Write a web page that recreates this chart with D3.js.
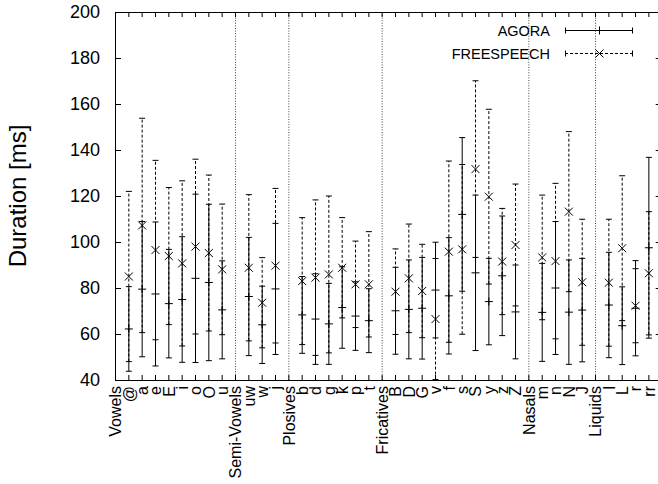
<!DOCTYPE html>
<html>
<head>
<meta charset="utf-8">
<script src="https://cdn.jsdelivr.net/npm/d3@7"></script>
<style>
  html, body { margin: 0; padding: 0; background: #fff; }
  svg { display: block; }
</style>
</head>
<body>
<script>
// Phoneme classes (headings) and phonemes along the x axis
const categories = ["Vowels","@","a","e","E","i","o","O","u",
  "Semi-Vowels","uw","w","j",
  "Plosives","b","d","g","k","p","t",
  "Fricatives","B","D","G","v","f","s","S","y","z","Z",
  "Nasals","m","n","N","J",
  "Liquids","l","L","r","rr"];

// Mean duration (ms) and standard deviation per phoneme; null for class headings
const agoraMean = [null,62.2,79.5,77.4,73.2,75.0,84.2,82.4,70.5,
  null,76.3,64.0,79.6,
  null,68.3,66.5,64.4,71.5,67.8,65.8,
  null,70.1,70.7,71.2,79.1,76.6,112.0,86.6,74.1,85.3,69.6,
  null,69.4,80.0,69.5,70.4,
  null,72.6,63.6,71.2,97.5];
const agoraSd = [null,18.4,29.4,31.3,23.6,27.3,36.6,34.0,21.3,
  null,25.7,16.8,28.5,
  null,16.7,19.7,17.6,17.7,14.9,13.9,
  null,18.9,21.5,22.1,20.8,25.3,33.4,33.8,18.8,26.0,20.4,
  null,21.3,28.9,22.7,22.5,
  null,22.9,16.9,20.7,39.3];
const freeMean = [null,85.0,107.2,96.5,93.9,90.7,98.0,95.2,88.1,
  null,88.8,73.6,89.7,
  null,83.0,84.5,85.9,88.8,81.6,81.6,
  null,78.4,84.2,78.7,66.5,95.8,96.8,131.7,119.7,91.5,98.7,
  null,93.3,91.7,113.2,82.5,
  null,82.3,97.3,72.3,86.4];
const freeSd = [null,37.0,46.6,39.0,29.8,35.9,38.0,33.9,28.4,
  null,31.8,19.6,33.6,
  null,27.6,33.8,34.1,21.8,18.8,22.9,
  null,18.6,23.6,20.3,26.3,39.4,36.9,38.4,38.0,23.1,26.5,
  null,27.1,33.8,34.8,27.4,
  null,27.6,31.5,16.1,26.8];

const yTicks = [40,60,80,100,120,140,160,180,200];
const seriesNames = ["AGORA","FREESPEECH"];

const W = 658, H = 484;
const FONT = "'Liberation Sans', Arial, Helvetica, sans-serif";

const svg = d3.select("body").append("svg")
  .attr("width", W).attr("height", H)
  .style("font-family", FONT);

const x = d3.scaleLinear().domain([0, 41]).range([115, 661.7]);
const y = d3.scaleLinear().domain([40, 200]).range([380, 12]);

const headings = categories.map((c, i) => agoraMean[i] === null ? i : -1).filter(i => i > 0);

svg.append("clipPath").attr("id", "plot-clip")
  .append("rect")
  .attr("x", x(0)).attr("y", y(200))
  .attr("width", x(41) - x(0)).attr("height", y(40) - y(200));

// Dotted separators between phoneme classes
svg.append("g").selectAll("line").data(headings).join("line")
  .attr("x1", d => x(d) + 0.5).attr("x2", d => x(d) + 0.5)
  .attr("y1", y(40)).attr("y2", y(200))
  .attr("stroke", "#444").attr("stroke-width", 1)
  .attr("stroke-dasharray", "1,1.6");

// Axes
const gLeft = svg.append("g").attr("transform", `translate(${x(0)},0)`)
  .call(d3.axisLeft(y).tickValues(yTicks).tickSize(-6).tickPadding(15).tickFormat(d3.format("d")));
const gRight = svg.append("g").attr("transform", `translate(${x(41)},0)`)
  .call(d3.axisRight(y).tickValues(yTicks).tickSize(-6).tickFormat(""));
const gTop = svg.append("g").attr("transform", `translate(0,${y(200)})`)
  .call(d3.axisTop(x).tickValues(d3.range(41)).tickSize(-5).tickFormat(""));
const gBottom = svg.append("g").attr("transform", `translate(0,${y(40)})`)
  .call(d3.axisBottom(x).tickValues(d3.range(41)).tickSize(-5).tickFormat(i => categories[i]));

[gLeft, gRight, gTop, gBottom].forEach(g => {
  g.select(".domain").remove();
  g.attr("font-family", FONT);
  g.selectAll(".tick line").attr("stroke", "#000").attr("stroke-width", 1);
});
gLeft.selectAll("text").attr("font-size", 18).attr("fill", "#000");
gBottom.selectAll("text")
  .attr("font-size", 16).attr("fill", "#000")
  .attr("transform", "rotate(-90)")
  .attr("text-anchor", "end")
  .attr("x", -6).attr("y", 0).attr("dy", "0.36em");

// Plot frame
svg.append("rect")
  .attr("x", x(0) + 0.5).attr("y", y(200) + 0.5)
  .attr("width", x(41) - x(0)).attr("height", y(40) - y(200))
  .attr("fill", "none").attr("stroke", "#000").attr("stroke-width", 1);

// Y axis title
svg.append("text")
  .attr("transform", `translate(17,${(y(40) + y(200)) / 2}) rotate(-90)`)
  .attr("text-anchor", "middle").attr("dominant-baseline", "central")
  .attr("font-size", 24).attr("fill", "#000")
  .text("Duration [ms]");

const plusPath = "M-4,0H4M0,-4V4";
const crossPath = "M-4,-4L4,4M-4,4L4,-4";
const capW = 3;

function drawSeries(means, sds, dash, marker) {
  const rows = means.map((m, i) => ({ i, m, s: sds[i] })).filter(d => d.m !== null);
  const g = svg.append("g").attr("clip-path", "url(#plot-clip)")
    .attr("stroke", "#000").attr("stroke-width", 1).attr("fill", "none");
  g.selectAll("line.bar").data(rows).join("line").attr("class", "bar")
    .attr("x1", d => x(d.i) + 0.5).attr("x2", d => x(d.i) + 0.5)
    .attr("y1", d => y(d.m - d.s)).attr("y2", d => y(d.m + d.s))
    .attr("stroke-dasharray", dash);
  g.selectAll("path.cap").data(rows).join("path").attr("class", "cap")
    .attr("d", d => {
      const cx = x(d.i) + 0.5, lo = y(d.m - d.s), hi = y(d.m + d.s);
      return `M${cx - capW},${hi}H${cx + capW}M${cx - capW},${lo}H${cx + capW}`;
    });
  g.selectAll("path.mark").data(rows).join("path").attr("class", "mark")
    .attr("transform", d => `translate(${x(d.i) + 0.5},${y(d.m)})`)
    .attr("d", marker);
}

drawSeries(agoraMean, agoraSd, null, plusPath);
drawSeries(freeMean, freeSd, "3,2", crossPath);

// Legend
const legend = svg.append("g").attr("font-size", 14.5);
const legendRows = [
  { name: seriesNames[0], yy: 30.5, dash: null, marker: plusPath },
  { name: seriesNames[1], yy: 53.5, dash: "3,2", marker: crossPath }
];
legendRows.forEach(r => {
  legend.append("text").attr("x", 550).attr("y", r.yy)
    .attr("text-anchor", "end").attr("dominant-baseline", "central")
    .attr("fill", "#000").text(r.name);
  legend.append("line").attr("x1", 565).attr("x2", 633)
    .attr("y1", r.yy).attr("y2", r.yy)
    .attr("stroke", "#000").attr("stroke-dasharray", r.dash);
  legend.append("path")
    .attr("d", `M565.5,${r.yy - 3}V${r.yy + 3}M632.5,${r.yy - 3}V${r.yy + 3}`)
    .attr("stroke", "#000");
  legend.append("path").attr("transform", `translate(599.5,${r.yy})`)
    .attr("d", r.marker).attr("stroke", "#000").attr("fill", "none");
});
</script>
</body>
</html>
